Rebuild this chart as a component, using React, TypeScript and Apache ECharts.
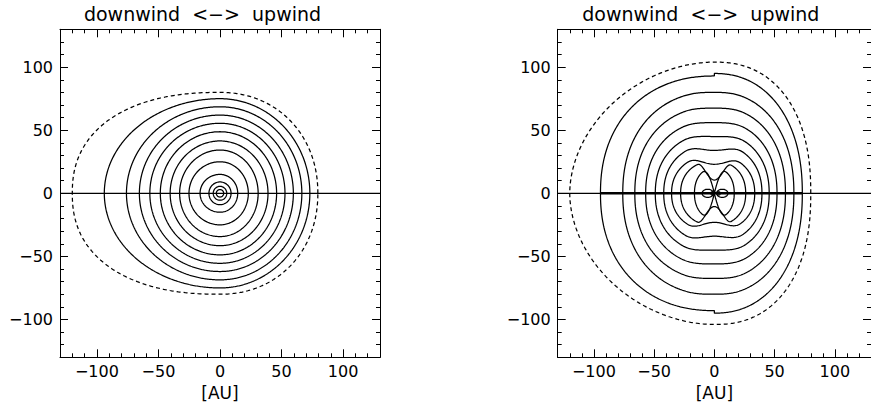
import React, { useEffect, useRef } from "react";
import * as echarts from "echarts";

// Shared axis range and labelled tick values [AU]
const AXIS_MIN = -130;
const AXIS_MAX = 130;
const MAJOR_TICKS = [-100, -50, 0, 50, 100];
const TITLE = "downwind  <\u2212>  upwind";
const AXIS_NAME = "[AU]";

// Panel 1: nested contours, outermost first (west/east crossings of y = 0, half-heights)
const isoWest = [-94, -76, -65.5, -57, -48.5, -40.5, -32.8, -25.2, -16.2];
const isoEast = [73, 66.5, 59.6, 52.8, 46, 39, 31, 23, 14.4];
const isoHalfHeight = [75, 68.6, 62, 55.5, 48.8, 41.5, 34.3, 25, 15];
const isoCoreRadius = [9, 5.5, 3];
const isoBoundaryWest = -120;
const isoBoundaryEast = 79.5;
const isoBoundaryHeight = 80;

// Panel 2: contours pinched near x = 0, outermost first
const dipWest = [-94.5, -76, -66, -57, -49, -42, -35.5, -28, -16.5];
const dipEast = [73, 66, 59, 52, 45.5, 39.5, 33.5, 26, 16.5];
const dipHeightWest = [93, 80.5, 68.5, 57.5, 47.5, 39, 30, 25.5, 20];
const dipHeightEast = [95, 80.5, 68.5, 57.5, 47.5, 39, 30, 25.5, 20];
const dipCentreHeight = [93, 80, 67.5, 56, 45, 34, 23, 10.5, 0];
const dipPinchWidth = [0, 20, 24, 26, 26, 24, 22, 14, 10];
const dipBoundaryWest = -120;
const dipBoundaryEast = 80;
const dipBoundaryHeight = 104;
const dipLoopCentre = [-5.5, 6.6];
const dipLoopHalfWidth = [4.7, 4.7];
const dipLoopHalfHeight = [3.2, 3.2];
const dipPoles = [-1.5, 3.5];

const FONT = "'DejaVu Sans', 'Liberation Sans', sans-serif";
const INK = "#000";

type Pt = [number, number];

// Upper half of one side of a contour, from its tip on y = 0 to x = 0.
function upperHalf(
  extent: number,
  height: number,
  power: number,
  centre: number,
  width: number,
  sharp: boolean
): Pt[] {
  const pts: Pt[] = [];
  const steps = 140;
  const depth = height > 0 ? Math.max(0, 1 - centre / height) : 0;
  for (let i = 0; i <= steps; i++) {
    const t = (i / steps) * (Math.PI / 2);
    const x = extent * Math.pow(Math.cos(t), 2 / power);
    let y = height * Math.pow(Math.sin(t), 2 / power);
    if (depth > 0 && width > 0) {
      const u = Math.abs(x) / width;
      if (u < 1) {
        const k = sharp ? (1 - u) * (1 - u) : (1 - u * u) * (1 - u * u);
        y *= 1 - depth * k;
      }
    }
    pts.push([x, y]);
  }
  return pts;
}

function closedContour(
  west: number,
  east: number,
  hWest: number,
  hEast: number,
  pWest: number,
  pEast: number,
  centre = Infinity,
  width = 0,
  sharp = false
): Pt[] {
  const eastUp = upperHalf(east, hEast, pEast, centre, width, sharp);
  const westUp = upperHalf(west, hWest, pWest, centre, width, sharp).reverse();
  const upper = [...eastUp, ...westUp];
  const lower = upper
    .slice()
    .reverse()
    .map(([x, y]) => [x, -y] as Pt);
  return [...upper, ...lower];
}

function ellipse(cx: number, a: number, b: number): Pt[] {
  const pts: Pt[] = [];
  const steps = 80;
  for (let i = 0; i <= steps; i++) {
    const t = (i / steps) * Math.PI * 2;
    pts.push([cx + a * Math.cos(t), b * Math.sin(t)]);
  }
  return pts;
}

function lineSeries(data: Pt[], panel: number, dashed = false, width = 1.25) {
  return {
    type: "line",
    xAxisIndex: panel * 4,
    yAxisIndex: panel * 4,
    data,
    showSymbol: false,
    symbol: "none",
    smooth: false,
    silent: true,
    animation: false,
    lineStyle: { color: INK, width, type: dashed ? [4, 3] : "solid" },
    z: 3,
  };
}

const fmt = (v: number) => (MAJOR_TICKS.includes(v) ? String(v).replace("-", "\u2212") : "");

function axesFor(kind: "x" | "y", grid: number, withName: boolean) {
  const sides = kind === "x" ? ["bottom", "top"] : ["left", "right"];
  const out: any[] = [];
  sides.forEach((position, s) => {
    const labelled = s === 0;
    out.push({
      type: "value",
      gridIndex: grid,
      position,
      min: AXIS_MIN,
      max: AXIS_MAX,
      interval: 10,
      axisLine: { show: true, onZero: false, lineStyle: { color: INK, width: 1 } },
      axisTick: { show: true, inside: true, length: 4, lineStyle: { color: INK, width: 1 } },
      axisLabel: labelled
        ? {
            show: true,
            customValues: MAJOR_TICKS,
            formatter: fmt,
            color: INK,
            fontSize: 16,
            fontFamily: FONT,
            margin: kind === "x" ? 6 : 7,
          }
        : { show: false },
      splitLine: { show: false },
      ...(labelled && kind === "x" && withName
        ? {
            name: AXIS_NAME,
            nameLocation: "middle",
            nameGap: 25,
            nameTextStyle: { color: INK, fontSize: 17, fontFamily: FONT },
          }
        : {}),
    });
    out.push({
      type: "value",
      gridIndex: grid,
      position,
      min: AXIS_MIN,
      max: AXIS_MAX,
      axisLine: { show: false, onZero: false },
      axisTick: {
        show: true,
        inside: true,
        length: 8,
        customValues: MAJOR_TICKS,
        lineStyle: { color: INK, width: 1 },
      },
      axisLabel: { show: false },
      splitLine: { show: false },
    });
  });
  return out;
}

function buildOption() {
  const series: any[] = [];

  // Panel 1
  series.push(lineSeries([[AXIS_MIN, 0], [AXIS_MAX, 0]], 0, false, 1.2));
  series.push(
    lineSeries(
      closedContour(isoBoundaryWest, isoBoundaryEast, isoBoundaryHeight, isoBoundaryHeight, 2.3, 2.1),
      0,
      true
    )
  );
  isoWest.forEach((w, i) => {
    series.push(lineSeries(closedContour(w, isoEast[i], isoHalfHeight[i], isoHalfHeight[i], 2, 2), 0));
  });
  isoCoreRadius.forEach((r) => series.push(lineSeries(ellipse(0, r, r), 0)));

  // Panel 2
  series.push(lineSeries([[AXIS_MIN, 0], [AXIS_MAX, 0]], 1, false, 1.2));
  series.push(lineSeries([[dipWest[0], 0], [dipEast[0], 0]], 1, false, 2.6));
  series.push(
    lineSeries(
      closedContour(dipBoundaryWest, dipBoundaryEast, dipBoundaryHeight, dipBoundaryHeight, 1.9, 2.3),
      1,
      true
    )
  );
  dipWest.forEach((w, i) => {
    const last = i === dipWest.length - 1;
    series.push(
      lineSeries(
        closedContour(
          w,
          dipEast[i],
          dipHeightWest[i],
          dipHeightEast[i],
          2.2,
          2.2,
          dipCentreHeight[i],
          dipPinchWidth[i],
          last
        ),
        1
      )
    );
  });
  dipLoopCentre.forEach((c, i) =>
    series.push(lineSeries(ellipse(c, dipLoopHalfWidth[i], dipLoopHalfHeight[i]), 1))
  );
  series.push({
    type: "scatter",
    xAxisIndex: 4,
    yAxisIndex: 4,
    data: dipPoles.map((x) => [x, 0]),
    symbol: "circle",
    symbolSize: 5,
    itemStyle: { color: INK },
    silent: true,
    z: 4,
  });

  return {
    animation: false,
    backgroundColor: "#fff",
    grid: [
      { left: 60, top: 29.3, width: 320, height: 328 },
      { left: 557.7, top: 29.3, width: 320, height: 328 },
    ],
    xAxis: [...axesFor("x", 0, true), ...axesFor("x", 1, true)],
    yAxis: [...axesFor("y", 0, false), ...axesFor("y", 1, false)],
    graphic: [
      {
        type: "text",
        x: 202.5,
        y: 14,
        style: { text: TITLE, fill: INK, font: `19px ${FONT}`, align: "center", verticalAlign: "middle" },
      },
      {
        type: "text",
        x: 700.8,
        y: 14,
        style: { text: TITLE, fill: INK, font: `19px ${FONT}`, align: "center", verticalAlign: "middle" },
      },
    ],
    series,
  };
}

export default function App() {
  const ref = useRef<HTMLDivElement>(null);
  useEffect(() => {
    if (!ref.current) return;
    const chart = echarts.init(ref.current, undefined, { renderer: "svg" });
    chart.setOption(buildOption() as any);
    return () => chart.dispose();
  }, []);
  return (
    <div
      ref={ref}
      style={{ position: "fixed", left: 0, top: 0, width: 871, height: 410, background: "#fff" }}
    />
  );
}
